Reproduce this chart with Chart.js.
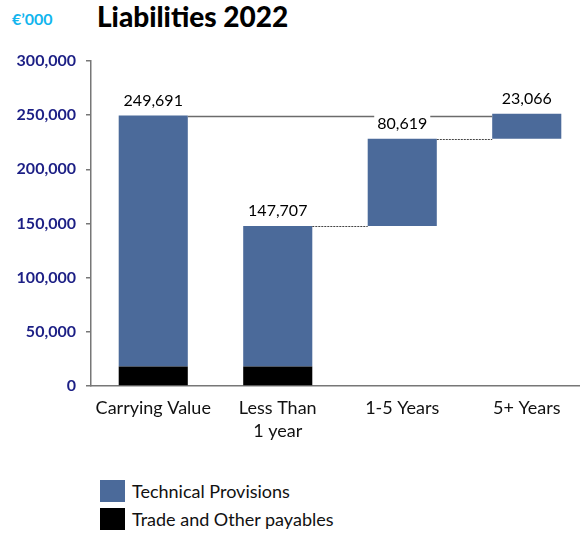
<!DOCTYPE html>
<html>
<head>
<meta charset="utf-8">
<script src="https://cdn.jsdelivr.net/npm/chart.js@4.4.1/dist/chart.umd.min.js"></script>
<style>
  html, body { margin: 0; padding: 0; background: #fff; overflow: hidden; }
  #wrap { position: relative; width: 580px; height: 537px; overflow: hidden; font-family: Lato, "Noto Sans", sans-serif; }
  #chartBox { position: absolute; left: 0; top: 0; width: 592px; height: 450px; }
  #unit { position: absolute; left: 12px; top: 9px; color: #12b5ee; font-weight: bold; font-size: 16px; }
  #title { position: absolute; left: 97px; top: -1px; color: #000; font-weight: 900; font-size: 28px; }
  #legend { position: absolute; left: 100px; top: 477px; }
  .leg-row { display: flex; align-items: center; height: 28px; font-size: 18px; color: #111; }
  .leg-box { width: 25px; height: 22px; margin-right: 7px; }
</style>
</head>
<body>
<div id="wrap">
  <div id="unit">€’000</div>
  <div id="title">Liabilities 2022</div>
  <div id="chartBox"><canvas id="chartLiab"></canvas></div>
  <div id="legend"></div>
</div>
<script>
//Categorías y valores (€'000)
const categories = [["Carrying Value"], ["Less Than", "1 year"], ["1-5 Years"], ["5+ Years"]];
const stepValues = [249691, 147707, 80619, 23066];
const tradePayables = [18000, 18000, 0, 0];
const yTicks = [0, 50000, 100000, 150000, 200000, 250000, 300000];

const BLUE = "#4b6a9a";
const NAVY = "#1c1f85";

//Barras flotantes tipo cascada
const cum1 = stepValues[1] + stepValues[2];
const cum2 = cum1 + stepValues[3];
const provisionBars = [
  [tradePayables[0], stepValues[0]],
  [tradePayables[1], stepValues[1]],
  [stepValues[1], cum1],
  [cum1, cum2]
];
const payableBars = tradePayables.map(v => v > 0 ? [0, v] : null);
const labelTops = [stepValues[0], stepValues[1], cum1, cum2];

const fmt = v => v.toLocaleString("en-US");

//Etiquetas y conectores
const waterfallPlugin = {
  id: "waterfall",
  afterDatasetsDraw(chart) {
    const ctx = chart.ctx;
    const y = chart.scales.y;
    const bars = chart.getDatasetMeta(0).data;
    const half = i => bars[i].width / 2;

    ctx.save();
    ctx.font = "16px Lato, 'Noto Sans', sans-serif";
    const gapW = ctx.measureText(fmt(stepValues[2])).width + 6;

    //línea sólida desde el valor contable
    const yTop = Math.round(y.getPixelForValue(stepValues[0])) + 0.5;
    ctx.strokeStyle = "#6b6b6b";
    ctx.lineWidth = 1.5;
    ctx.beginPath();
    ctx.moveTo(bars[0].x + half(0), yTop);
    ctx.lineTo(bars[2].x - gapW / 2, yTop);
    ctx.moveTo(bars[2].x + gapW / 2, yTop);
    ctx.lineTo(bars[3].x - half(3), yTop);
    ctx.stroke();

    //líneas punteadas entre tramos
    ctx.strokeStyle = "#444";
    ctx.lineWidth = 1;
    ctx.setLineDash([2, 1]);
    [[1, 2, stepValues[1]], [2, 3, cum1]].forEach(([a, b, v]) => {
      const py = Math.round(y.getPixelForValue(v)) + 0.5;
      ctx.beginPath();
      ctx.moveTo(bars[a].x + half(a), py);
      ctx.lineTo(bars[b].x - half(b), py);
      ctx.stroke();
    });
    ctx.setLineDash([]);

    //valores
    ctx.fillStyle = "#000";
    ctx.textAlign = "center";
    ctx.textBaseline = "middle";
    bars.forEach((bar, i) => {
      ctx.fillText(fmt(stepValues[i]), bar.x, y.getPixelForValue(labelTops[i]) - 15);
    });
    ctx.restore();
  }
};

const chart = new Chart(document.getElementById("chartLiab"), {
  type: "bar",
  data: {
    labels: categories,
    datasets: [
      { label: "Technical Provisions", data: provisionBars, backgroundColor: BLUE, grouped: false, order: 2 },
      { label: "Trade and Other payables", data: payableBars, backgroundColor: "#000", grouped: false, order: 1 }
    ]
  },
  options: {
    responsive: true, maintainAspectRatio: false, animation: false,
    layout: { padding: { top: 61, right: 3, left: 0, bottom: 0 } },
    datasets: { bar: { barPercentage: 0.555, categoryPercentage: 1 } },
    plugins: { legend: { display: false }, tooltip: { enabled: false } },
    scales: {
      x: {
        afterFit: s => { s.height = 64; },
        grid: { display: false },
        border: { color: "#777", width: 1.5 },
        ticks: { color: "#111", font: { family: "Lato, 'Noto Sans', sans-serif", size: 18, lineHeight: 1.3 }, padding: 2, maxRotation: 0 }
      },
      y: {
        min: 0, max: 300000,
        afterFit: s => { s.width = 91; },
        afterBuildTicks: s => { s.ticks = yTicks.map(v => ({ value: v })); },
        grid: { drawOnChartArea: false, tickLength: 5, color: "#777", lineWidth: 1.5 },
        border: { color: "#777", width: 1.5 },
        ticks: { color: NAVY, font: { family: "Lato, 'Noto Sans', sans-serif", size: 16, weight: "bold" }, padding: 10, callback: v => fmt(v) }
      }
    }
  },
  plugins: [waterfallPlugin]
});

//Leyenda vertical
const legend = document.getElementById("legend");
chart.data.datasets.forEach(ds => {
  const row = document.createElement("div");
  row.className = "leg-row";
  row.innerHTML = `<span class="leg-box" style="background:${ds.backgroundColor}"></span>${ds.label}`;
  legend.appendChild(row);
});
</script>
</body>
</html>
